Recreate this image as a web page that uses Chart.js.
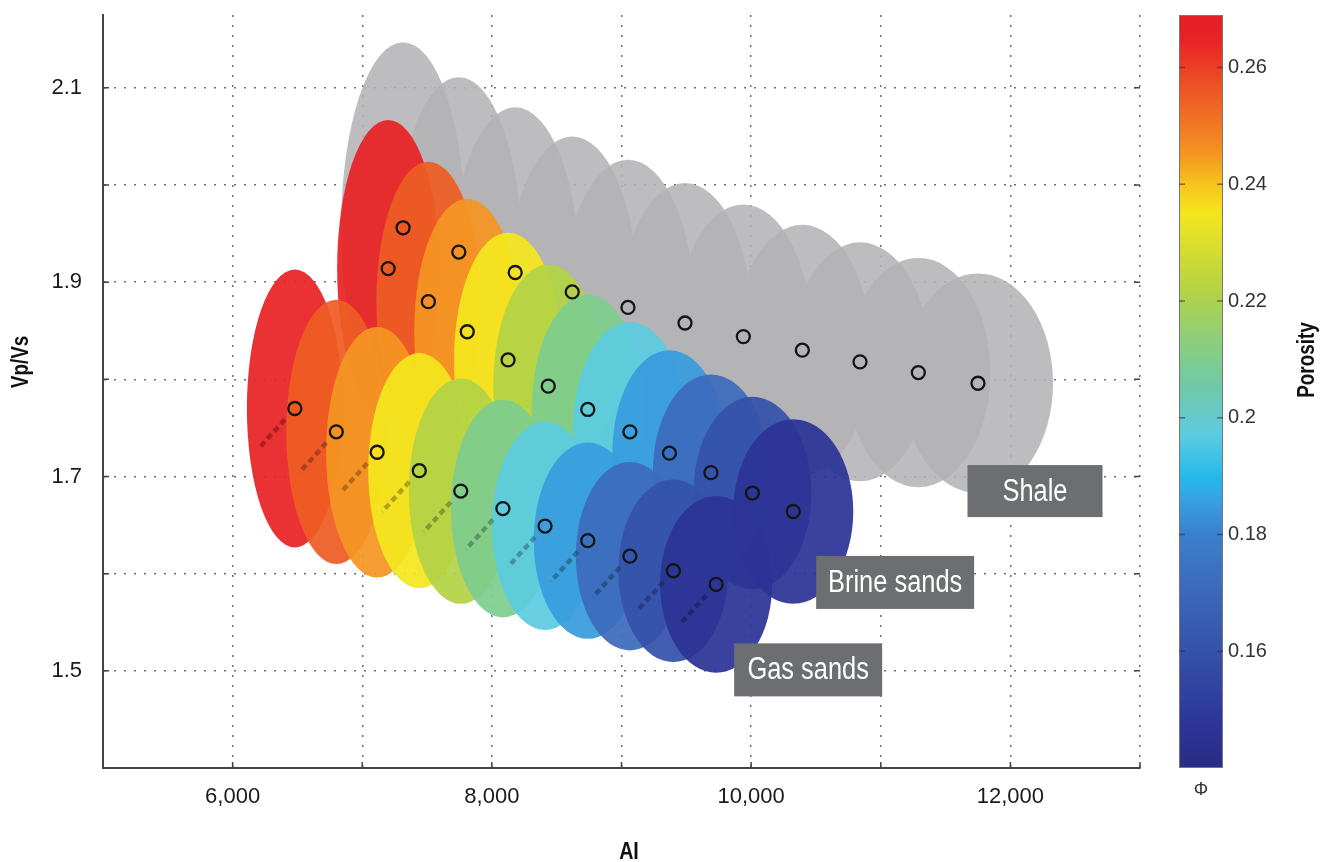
<!DOCTYPE html>
<html>
<head>
<meta charset="utf-8">
<script src="https://cdn.jsdelivr.net/npm/chart.js@4.4.0/dist/chart.umd.min.js"></script>
<style>
  html, body { margin: 0; padding: 0; background: #fff; }
  #wrap { width: 1320px; height: 862px; }
</style>
</head>
<body>
<div id="wrap"><canvas id="chart" width="1320" height="862"></canvas></div>
<script>
// Eixos
const xGridValues = [5000, 6000, 7000, 8000, 9000, 10000, 11000, 12000, 13000]
const xTickLabels = [6000, 8000, 10000, 12000]
const yGridValues = [1.4, 1.5, 1.6, 1.7, 1.8, 1.9, 2.0, 2.1]
const yTickLabels = [1.5, 1.7, 1.9, 2.1]
const porosityTicks = [0.16, 0.18, 0.2, 0.22, 0.24, 0.26]

// Porosidade de cada elipse (mesma para as três litologias)
const porosity = [0.265, 0.255, 0.245, 0.235, 0.222, 0.21, 0.197, 0.185, 0.172, 0.16, 0.147]

// Shale
const shaleAI = [7315, 7745, 8180, 8620, 9050, 9490, 9940, 10395, 10840, 11290, 11750]
const shaleVpVs = [1.956, 1.931, 1.910, 1.890, 1.874, 1.858, 1.844, 1.830, 1.818, 1.807, 1.796]
const shaleSdAI = [478, 486, 494, 502, 509, 517, 525, 532, 540, 556, 579]
const shaleSdVpVs = [0.191, 0.180, 0.170, 0.160, 0.152, 0.144, 0.136, 0.129, 0.123, 0.118, 0.113]

// Brine sands
const brineAI = [7200, 7510, 7810, 8125, 8435, 8740, 9065, 9370, 9690, 10010, 10325]
const brineVpVs = [1.914, 1.880, 1.849, 1.820, 1.793, 1.769, 1.746, 1.724, 1.704, 1.683, 1.664]
const brineSdAI = [394, 401, 409, 417, 424, 432, 440, 440, 448, 455, 463]
const brineSdVpVs = [0.153, 0.144, 0.137, 0.131, 0.125, 0.118, 0.113, 0.106, 0.101, 0.099, 0.095]

// Gas sands
const gasAI = [6480, 6800, 7115, 7440, 7760, 8085, 8410, 8740, 9065, 9400, 9730]
const gasVpVs = [1.770, 1.746, 1.725, 1.706, 1.685, 1.667, 1.649, 1.634, 1.618, 1.603, 1.589]
const gasSdAI = [370, 386, 394, 394, 401, 401, 409, 417, 417, 424, 432]
const gasSdVpVs = [0.143, 0.136, 0.129, 0.121, 0.116, 0.112, 0.107, 0.101, 0.097, 0.094, 0.091]
// ponta das trajetórias tracejadas
const gasTailAI = [6195, 6515, 6830, 7155, 7475, 7800, 8125, 8455, 8780, 9115, 9445]
const gasTailVpVs = [1.728, 1.704, 1.683, 1.664, 1.643, 1.625, 1.607, 1.592, 1.576, 1.561, 1.547]

// Escala de cores da porosidade
const COLORMAP = [
  [0.140, [42, 44, 132]],
  [0.147, [44, 52, 150]],
  [0.160, [53, 82, 170]],
  [0.172, [60, 108, 188]],
  [0.180, [58, 128, 204]],
  [0.185, [56, 156, 222]],
  [0.190, [38, 185, 235]],
  [0.197, [92, 203, 224]],
  [0.205, [112, 200, 170]],
  [0.210, [126, 205, 142]],
  [0.222, [180, 211, 70]],
  [0.235, [244, 230, 30]],
  [0.240, [247, 196, 28]],
  [0.245, [244, 150, 34]],
  [0.255, [238, 92, 36]],
  [0.265, [232, 34, 38]],
  [0.269, [230, 30, 38]],
]

const labelBoxes = [
  { text: "Shale", ai: 12190, vpvs: 1.685, w: 135, h: 52 },
  { text: "Brine sands", ai: 11111, vpvs: 1.591, w: 158, h: 53 },
  { text: "Gas sands", ai: 10440, vpvs: 1.501, w: 148, h: 53 },
]

const SANS = '"Liberation Sans", Arial, sans-serif'

function porosityRGB(p) {
  if (p <= COLORMAP[0][0]) return COLORMAP[0][1]
  for (let i = 1; i < COLORMAP.length; i++) {
    const [p1, c1] = COLORMAP[i]
    if (p <= p1) {
      const [p0, c0] = COLORMAP[i - 1]
      const t = (p - p0) / (p1 - p0)
      return c0.map((v, k) => Math.round(v + (c1[k] - v) * t))
    }
  }
  return COLORMAP[COLORMAP.length - 1][1]
}

function rgba(c, a) {
  return `rgba(${c[0]},${c[1]},${c[2]},${a})`
}

// texto estreito (Helvetica Narrow) por compressão horizontal
function narrowText(ctx, text, x, y, font, rotate) {
  ctx.save()
  ctx.translate(x, y)
  if (rotate) ctx.rotate(rotate)
  ctx.scale(0.82, 1)
  ctx.font = font
  ctx.textAlign = "center"
  ctx.textBaseline = "middle"
  ctx.fillText(text, 0, 0)
  ctx.restore()
}

function drawEllipses(ctx, xs, ys, ai, vp, sdAi, sdVp, fillFn) {
  for (let i = 0; i < ai.length; i++) {
    const cx = xs.getPixelForValue(ai[i])
    const cy = ys.getPixelForValue(vp[i])
    const rx = Math.abs(xs.getPixelForValue(ai[i] + sdAi[i]) - cx)
    const ry = Math.abs(ys.getPixelForValue(vp[i] + sdVp[i]) - cy)
    ctx.beginPath()
    ctx.ellipse(cx, cy, rx, ry, 0, 0, Math.PI * 2)
    ctx.fillStyle = fillFn(i)
    ctx.fill()
  }
}

// Plugin: elipses, trajetórias e barra de cores
const ellipsePlugin = {
  id: "ellipses",
  beforeDatasetsDraw(chart) {
    const { ctx, chartArea, scales } = chart
    const xs = scales.x
    const ys = scales.y
    ctx.save()
    ctx.beginPath()
    ctx.rect(chartArea.left, chartArea.top, chartArea.width, chartArea.height)
    ctx.clip()

    drawEllipses(ctx, xs, ys, shaleAI, shaleVpVs, shaleSdAI, shaleSdVpVs, () => "rgba(180,180,182,0.88)")
    drawEllipses(ctx, xs, ys, brineAI, brineVpVs, brineSdAI, brineSdVpVs, (i) => rgba(porosityRGB(porosity[i]), 0.93))
    drawEllipses(ctx, xs, ys, gasAI, gasVpVs, gasSdAI, gasSdVpVs, (i) => rgba(porosityRGB(porosity[i]), 0.93))

    // trajetórias tracejadas dos gas sands
    ctx.lineWidth = 4.5
    ctx.setLineDash([6, 4])
    for (let i = 0; i < gasAI.length; i++) {
      const x0 = xs.getPixelForValue(gasAI[i])
      const y0 = ys.getPixelForValue(gasVpVs[i])
      const x1 = xs.getPixelForValue(gasTailAI[i])
      const y1 = ys.getPixelForValue(gasTailVpVs[i])
      const c = porosityRGB(porosity[i]).map((v) => Math.round(v * 0.45))
      ctx.strokeStyle = rgba(c, 0.5)
      ctx.beginPath()
      ctx.moveTo(x0 + (x1 - x0) * 0.27, y0 + (y1 - y0) * 0.27)
      ctx.lineTo(x1, y1)
      ctx.stroke()
    }
    ctx.restore()
  },
  afterDraw(chart) {
    const { ctx, chartArea, scales } = chart
    const xs = scales.x
    const ys = scales.y
    const cb = scales.porosity
    ctx.save()

    // marcas de escala para dentro
    ctx.strokeStyle = "#444"
    ctx.lineWidth = 1.5
    ctx.beginPath()
    xGridValues.forEach((v) => {
      const px = xs.getPixelForValue(v)
      ctx.moveTo(px, chartArea.bottom)
      ctx.lineTo(px, chartArea.bottom - 6)
    })
    yGridValues.forEach((v) => {
      const py = ys.getPixelForValue(v)
      ctx.moveTo(chartArea.left, py)
      ctx.lineTo(chartArea.left + 6, py)
      ctx.moveTo(chartArea.right, py)
      ctx.lineTo(chartArea.right - 6, py)
    })
    ctx.stroke()

    // barra de cores
    const barL = cb.left + 39
    const barR = cb.left + 83
    const yBot = cb.getPixelForValue(COLORMAP[0][0])
    const yTop = cb.getPixelForValue(COLORMAP[COLORMAP.length - 1][0])
    const grad = ctx.createLinearGradient(0, yBot, 0, yTop)
    const span = COLORMAP[COLORMAP.length - 1][0] - COLORMAP[0][0]
    COLORMAP.forEach(([p, c]) => grad.addColorStop((p - COLORMAP[0][0]) / span, rgba(c, 1)))
    ctx.fillStyle = grad
    ctx.fillRect(barL, yTop, barR - barL, yBot - yTop)
    ctx.strokeStyle = "#777"
    ctx.lineWidth = 1
    ctx.strokeRect(barL + 0.5, yTop + 0.5, barR - barL - 1, yBot - yTop - 1)
    ctx.strokeStyle = "rgba(60,40,40,0.6)"
    ctx.lineWidth = 1.5
    ctx.beginPath()
    porosityTicks.forEach((v) => {
      const py = cb.getPixelForValue(v)
      ctx.moveTo(barL, py)
      ctx.lineTo(barL + 6, py)
      ctx.moveTo(barR, py)
      ctx.lineTo(barR - 6, py)
    })
    ctx.stroke()

    // títulos
    ctx.fillStyle = "#111"
    narrowText(ctx, "AI", 629, 852, `bold 24px ${SANS}`)
    narrowText(ctx, "Vp/Vs", 22, 362, `bold 23px ${SANS}`, -Math.PI / 2)
    narrowText(ctx, "Porosity", 1308, 360, `bold 23px ${SANS}`, -Math.PI / 2)
    ctx.fillStyle = "#333"
    ctx.font = `18px ${SANS}`
    ctx.textAlign = "center"
    ctx.textBaseline = "middle"
    ctx.fillText("\u03A6", (barL + barR) / 2, 790)

    // caixas de rótulo
    labelBoxes.forEach((b) => {
      const cx = xs.getPixelForValue(b.ai)
      const cy = ys.getPixelForValue(b.vpvs)
      ctx.fillStyle = "#6d6e71"
      ctx.fillRect(cx - b.w / 2, cy - b.h / 2, b.w, b.h)
      ctx.fillStyle = "#fff"
      narrowText(ctx, b.text, cx, cy + 1, `31px ${SANS}`)
    })
    ctx.restore()
  },
}

const markerStyle = {
  type: "scatter",
  pointStyle: "circle",
  pointRadius: 6.5,
  pointBorderWidth: 2.3,
  pointBorderColor: "#151515",
  pointBackgroundColor: "rgba(0,0,0,0)",
  showLine: false,
}

const ctx = document.getElementById("chart").getContext("2d")
new Chart(ctx, {
  type: "scatter",
  data: {
    datasets: [
      { ...markerStyle, label: "Shale", data: shaleAI.map((x, i) => ({ x, y: shaleVpVs[i] })) },
      { ...markerStyle, label: "Brine sands", data: brineAI.map((x, i) => ({ x, y: brineVpVs[i] })) },
      { ...markerStyle, label: "Gas sands", data: gasAI.map((x, i) => ({ x, y: gasVpVs[i] })) },
    ],
  },
  options: {
    responsive: false,
    animation: false,
    layout: { padding: { top: 15, left: 0, right: 0, bottom: 0 } },
    plugins: {
      legend: { display: false },
      tooltip: { enabled: false },
    },
    scales: {
      x: {
        type: "linear",
        min: 5000,
        max: 13000,
        afterBuildTicks: (scale) => {
          scale.ticks = xGridValues.map((v) => ({ value: v }))
        },
        afterFit: (scale) => {
          scale.height = 94
        },
        grid: { color: "#6f6f6f", lineWidth: 1.5, drawTicks: false },
        border: { display: true, color: "#444", width: 2, dash: [2, 8] },
        ticks: {
          padding: 16,
          color: "#1a1a1a",
          font: { family: SANS, size: 22 },
          maxRotation: 0,
          autoSkip: false,
          callback: (v) => (xTickLabels.includes(v) ? v.toLocaleString("en-US") : ""),
        },
      },
      y: {
        type: "linear",
        min: 1.4,
        max: 2.175,
        afterBuildTicks: (scale) => {
          scale.ticks = yGridValues.map((v) => ({ value: v }))
        },
        afterFit: (scale) => {
          scale.width = 103
        },
        grid: { color: "#6f6f6f", lineWidth: 1.5, drawTicks: true, tickLength: 21, tickColor: "rgba(0,0,0,0)" },
        border: { display: true, color: "#444", width: 2, dash: [2, 8] },
        ticks: {
          padding: 0,
          color: "#1a1a1a",
          font: { family: SANS, size: 22 },
          autoSkip: false,
          callback: (v) => (yTickLabels.includes(v) ? v.toFixed(1) : ""),
        },
      },
      porosity: {
        axis: "y",
        type: "linear",
        position: "right",
        min: 0.14,
        max: 0.269,
        afterBuildTicks: (scale) => {
          scale.ticks = porosityTicks.map((v) => ({ value: v }))
        },
        afterFit: (scale) => {
          scale.width = 180
        },
        grid: { display: true, drawOnChartArea: false, drawTicks: true, tickLength: 88, tickColor: "rgba(0,0,0,0)" },
        border: { display: false },
        ticks: {
          padding: 0,
          color: "#333",
          font: { family: SANS, size: 20 },
          autoSkip: false,
          callback: (v) => String(v),
        },
      },
    },
  },
  plugins: [ellipsePlugin],
})
</script>
</body>
</html>
